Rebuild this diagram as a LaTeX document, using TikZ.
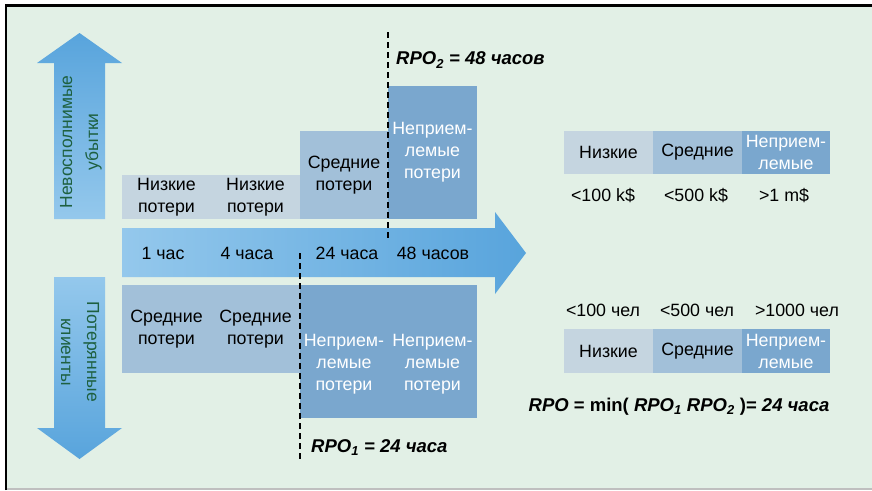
\documentclass[tikz,border=0pt]{standalone}
\usepackage{fontspec}
\setmainfont{Liberation Sans}

\definecolor{bgGreen}{RGB}{226,240,230}
\definecolor{arrowLight}{RGB}{148,200,236}
\definecolor{arrowDark}{RGB}{88,164,220}
\definecolor{lossLow}{RGB}{197,213,224}
\definecolor{lossMid}{RGB}{162,192,217}
\definecolor{lossHigh}{RGB}{122,167,206}
\definecolor{axisText}{RGB}{30,96,64}

\tikzset{
    cell/.style={inner sep=0pt, outer sep=0pt, align=center, anchor=north west, font=\fontsize{17.8}{22}\selectfont},
    lowcell/.style={cell, fill=lossLow},
    midcell/.style={cell, fill=lossMid},
    highcell/.style={cell, fill=lossHigh, text=white},
    plain/.style={inner sep=0pt, align=center, font=\fontsize{17.8}{22}\selectfont},
    axislabel/.style={inner sep=0pt, align=center, text=axisText, font=\fontsize{17.5}{26}\selectfont},
    rpo/.style={inner sep=0pt, font=\fontsize{18.5}{22}\selectfont\bfseries\itshape},
    rpoline/.style={line width=1.6pt, dash pattern=on 6pt off 4pt},
}

\begin{document}
\begin{tikzpicture}[x=1pt, y=-1pt]
    \useasboundingbox (0,0) rectangle (872,490);

    % Frame
    \fill[bgGreen] (5,5) rectangle (872,490);
    \draw[black!25, line width=1.5pt] (5,489) -- (872,489);
    \draw[line width=2.4pt] (6,490) -- (6,5.3) -- (872,5.3);

    % Arrows: time axis, losses (up), clients (down)
    \shade[left color=arrowLight, right color=arrowDark] (122,228) -- (495,228) -- (495,212) -- (526,253) -- (495,294) -- (495,277) -- (122,277) -- cycle;
    \shade[top color=arrowDark, bottom color=arrowLight] (54,219) -- (54,63) -- (37,63) -- (79.5,33) -- (122,63) -- (105,63) -- (105,219) -- cycle;
    \shade[top color=arrowLight, bottom color=arrowDark] (54,277) -- (105,277) -- (105,428) -- (122,428) -- (79.5,459) -- (37,428) -- (54,428) -- cycle;

    \node[axislabel, rotate=90]  (lossAxis)   at (81,142) {Невосполнимые\\убытки};
    \node[axislabel, rotate=-90] (clientAxis) at (80,352) {Потерянные\\клиенты};

    % Time marks
    \node[plain] (tOne)    at (163,253) {1 час};
    \node[plain] (tFour)   at (247,253) {4 часа};
    \node[plain] (tDay)    at (347,253) {24 часа};
    \node[plain] (tTwoDay) at (433,253) {48 часов};

    % Money losses (above the axis)
    \node[lowcell, minimum width=89pt, minimum height=44pt]   (moneyA) at (122,175) {Низкие\\потери};
    \node[lowcell, minimum width=89pt, minimum height=44pt]   (moneyB) at (211,175) {Низкие\\потери};
    \node[midcell, minimum width=88pt, minimum height=88pt]   (moneyC) at (300,131) {Средние\\потери};
    \node[highcell, minimum width=89pt, minimum height=133pt] (moneyD) at (388,86)  {Неприем-\\лемые\\потери};

    % Client losses (below the axis)
    \node[midcell, minimum width=89pt, minimum height=88pt]   (clientA) at (122,285) {Средние\\потери};
    \node[midcell, minimum width=89pt, minimum height=88pt]   (clientB) at (211,285) {Средние\\потери};
    \node[highcell, minimum width=88pt, minimum height=133pt] (clientC) at (300,285) {};
    \node[highcell, minimum width=89pt, minimum height=133pt] (clientD) at (388,285) {};
    \node[plain, text=white] (clientCText) at ([yshift=-13pt]clientC.center) {Неприем-\\лемые\\потери};
    \node[plain, text=white] (clientDText) at ([yshift=-13pt]clientD.center) {Неприем-\\лемые\\потери};

    % RPO limits
    \coordinate (rpoTwoTop) at (388,32);
    \coordinate (rpoTwoEnd) at (388,240);
    \coordinate (rpoOneTop) at (300,253);
    \coordinate (rpoOneEnd) at (300,460);
    \draw[rpoline] (rpoTwoTop) -- (rpoTwoEnd);
    \draw[rpoline] (rpoOneTop) -- (rpoOneEnd);
    \node[rpo, anchor=west] (rpoTwo) at (396,60)  {RPO\textsubscript{2} = 48 часов};
    \node[rpo, anchor=west] (rpoOne) at (311,448) {RPO\textsubscript{1} = 24 часа};

    % Scale: money
    \node[lowcell, minimum width=89pt, minimum height=43pt]  (costLow)  at (564,131) {Низкие};
    \node[midcell, minimum width=89pt, minimum height=43pt]  (costMid)  at (653,131) {Средние};
    \node[highcell, minimum width=88pt, minimum height=43pt] (costHigh) at (742,131) {Неприем-\\лемые};
    \node[plain] (costLowVal)  at (603,196) {<100 k\$};
    \node[plain] (costMidVal)  at (696,196) {<500 k\$};
    \node[plain] (costHighVal) at (784,196) {>1 m\$};

    % Scale: clients
    \node[plain] (userLowVal)  at (603,310) {<100 чел};
    \node[plain] (userMidVal)  at (697,310) {<500 чел};
    \node[plain] (userHighVal) at (797,310) {>1000 чел};
    \node[lowcell, minimum width=89pt, minimum height=44pt]  (userLow)  at (564,329) {Низкие};
    \node[midcell, minimum width=89pt, minimum height=44pt]  (userMid)  at (653,329) {Средние};
    \node[highcell, minimum width=88pt, minimum height=44pt] (userHigh) at (742,329) {Неприем-\\лемые};

    % Result
    \node[rpo] (rpoMin) at (679,407) {RPO {\upshape = min(} RPO\textsubscript{1} RPO\textsubscript{2} {\upshape )=} 24 часа};
\end{tikzpicture}
\end{document}
